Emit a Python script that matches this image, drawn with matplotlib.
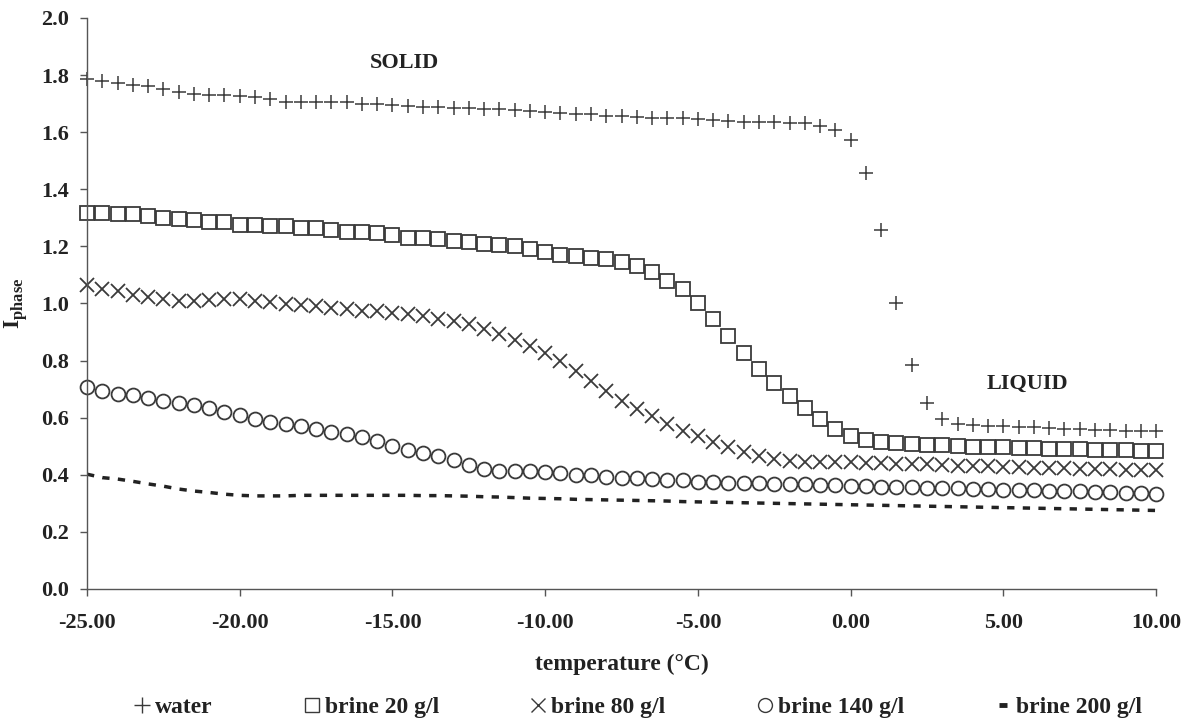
import matplotlib
matplotlib.use("Agg")
import matplotlib.pyplot as plt
from matplotlib.lines import Line2D
import numpy as np

plt.rcParams['font.family'] = ['Liberation Serif', 'DejaVu Serif']
plt.rcParams['font.weight'] = 'bold'
plt.rcParams['mathtext.fontset'] = 'custom'
plt.rcParams['mathtext.rm'] = 'Liberation Serif:bold'
plt.rcParams['mathtext.bf'] = 'Liberation Serif:bold'

# temperature grid (°C), one reading every 0.5 degree
temperature = np.arange(-25.0, 10.01, 0.5)

water = [1.785, 1.780, 1.773, 1.766, 1.760, 1.750, 1.742, 1.733, 1.731, 1.730,
         1.728, 1.722, 1.715, 1.707, 1.705, 1.705, 1.706, 1.704, 1.700, 1.697,
         1.694, 1.690, 1.688, 1.688, 1.686, 1.684, 1.682, 1.680, 1.677, 1.674,
         1.671, 1.668, 1.664, 1.662, 1.658, 1.655, 1.654, 1.651, 1.650, 1.649,
         1.645, 1.642, 1.638, 1.635, 1.634, 1.634, 1.633, 1.631, 1.620, 1.608,
         1.573, 1.458, 1.259, 1.003, 0.783, 0.653, 0.594, 0.578, 0.574, 0.572,
         0.570, 0.568, 0.566, 0.564, 0.562, 0.560, 0.558, 0.557, 0.555, 0.553,
         0.552]

brine20 = [1.318, 1.316, 1.315, 1.313, 1.308, 1.300, 1.297, 1.292, 1.287, 1.285,
           1.276, 1.274, 1.273, 1.270, 1.266, 1.264, 1.256, 1.252, 1.252, 1.247,
           1.240, 1.231, 1.229, 1.225, 1.220, 1.215, 1.210, 1.205, 1.200, 1.190,
           1.180, 1.171, 1.165, 1.160, 1.155, 1.145, 1.130, 1.110, 1.080, 1.050,
           1.000, 0.945, 0.885, 0.825, 0.770, 0.720, 0.675, 0.635, 0.594, 0.560,
           0.535, 0.521, 0.514, 0.510, 0.508, 0.505, 0.503, 0.500, 0.498, 0.497,
           0.496, 0.494, 0.493, 0.491, 0.490, 0.489, 0.488, 0.487, 0.486, 0.485,
           0.483]

brine80 = [1.066, 1.052, 1.042, 1.031, 1.024, 1.017, 1.007, 1.007, 1.012, 1.015,
           1.015, 1.010, 1.004, 0.997, 0.993, 0.990, 0.985, 0.980, 0.975, 0.972,
           0.968, 0.962, 0.956, 0.947, 0.937, 0.927, 0.909, 0.892, 0.871, 0.850,
           0.825, 0.797, 0.762, 0.727, 0.692, 0.657, 0.629, 0.605, 0.577, 0.552,
           0.535, 0.514, 0.497, 0.479, 0.465, 0.455, 0.448, 0.446, 0.445, 0.444,
           0.443, 0.442, 0.441, 0.439, 0.437, 0.436, 0.434, 0.432, 0.431, 0.429,
           0.428, 0.426, 0.425, 0.423, 0.422, 0.421, 0.420, 0.419, 0.418, 0.417,
           0.416]

brine140 = [0.706, 0.692, 0.684, 0.678, 0.670, 0.660, 0.653, 0.644, 0.633, 0.619,
            0.608, 0.597, 0.585, 0.577, 0.570, 0.560, 0.550, 0.542, 0.531, 0.520,
            0.502, 0.488, 0.475, 0.464, 0.450, 0.434, 0.420, 0.414, 0.414, 0.412,
            0.410, 0.405, 0.400, 0.398, 0.392, 0.389, 0.387, 0.385, 0.381, 0.381,
            0.375, 0.374, 0.372, 0.371, 0.370, 0.368, 0.367, 0.366, 0.364, 0.363,
            0.361, 0.360, 0.358, 0.357, 0.356, 0.354, 0.353, 0.352, 0.351, 0.349,
            0.348, 0.347, 0.346, 0.344, 0.343, 0.342, 0.340, 0.338, 0.337, 0.335,
            0.333]

brine200 = [0.402, 0.390, 0.385, 0.377, 0.368, 0.360, 0.350, 0.343, 0.338, 0.332,
            0.328, 0.326, 0.326, 0.326, 0.328, 0.328, 0.328, 0.328, 0.328, 0.328,
            0.328, 0.328, 0.327, 0.327, 0.326, 0.325, 0.323, 0.322, 0.320, 0.318,
            0.317, 0.316, 0.314, 0.313, 0.312, 0.311, 0.310, 0.309, 0.308, 0.306,
            0.305, 0.304, 0.303, 0.302, 0.301, 0.300, 0.299, 0.298, 0.297, 0.296,
            0.295, 0.294, 0.293, 0.292, 0.291, 0.290, 0.289, 0.288, 0.287, 0.286,
            0.285, 0.284, 0.283, 0.282, 0.281, 0.280, 0.279, 0.278, 0.277, 0.276,
            0.275]

labels = ['water', 'brine 20 g/l', 'brine 80 g/l', 'brine 140 g/l', 'brine 200 g/l']

xticks = [-25, -20, -15, -10, -5, 0, 5, 10]
yticks = [0.0, 0.2, 0.4, 0.6, 0.8, 1.0, 1.2, 1.4, 1.6, 1.8, 2.0]

mc = '#3a3a3a'
txt = '#222222'

fig = plt.figure(figsize=(11.89, 7.24), dpi=100)
ax = fig.add_axes([0.0732, 0.1865, 0.8991, 0.7887])

ax.plot(temperature, water, ls='none', marker='+', ms=10.5, mew=1.1, color=mc, clip_on=False)
ax.plot(temperature, brine20, ls='none', marker='s', ms=9.8, mew=1.3, mfc='none', mec=mc, clip_on=False)
ax.plot(temperature, brine80, ls='none', marker='x', ms=9.5, mew=1.3, color=mc, clip_on=False)
ax.plot(temperature, brine140, ls='none', marker='o', ms=10, mew=1.3, mfc='none', mec=mc, clip_on=False)
ax.plot(temperature, brine200, ls=(0, (2.1, 2.4)), lw=2.5, color='#222222')

ax.text(-14.6, 1.843, 'SOLID', ha='center', va='center', fontsize=16, color=txt)
ax.text(5.8, 0.72, 'LIQUID', ha='center', va='center', fontsize=16, color=txt)

ax.set_xlim(-25, 10)
ax.set_ylim(0, 2.0)
ax.set_xticks(xticks)
ax.set_xticklabels([f'{t:.2f}' for t in xticks])
ax.set_yticks(yticks)
ax.set_yticklabels([f'{t:.1f}' for t in yticks])
ax.tick_params(direction='out', length=5, width=1, colors='#555555', labelcolor=txt, labelsize=16)
ax.tick_params(axis='x', pad=12)
ax.tick_params(axis='y', pad=8)

for s in ['top', 'right']:
    ax.spines[s].set_visible(False)
for s in ['left', 'bottom']:
    ax.spines[s].set_color('#555555')
    ax.spines[s].set_linewidth(1.0)

ax.set_xlabel('temperature (°C)', fontsize=17, fontweight='bold', color=txt, labelpad=15)
ax.set_ylabel(r'$\mathrm{I}_{\mathrm{phase}}$', fontsize=17, color=txt, labelpad=8)

handles = [
    Line2D([], [], ls='none', marker='+', ms=12, mew=1.0, color=mc),
    Line2D([], [], ls='none', marker='s', ms=10, mew=1.0, mfc='none', mec=mc),
    Line2D([], [], ls='none', marker='x', ms=10, mew=1.0, color=mc),
    Line2D([], [], ls='none', marker='o', ms=10, mew=1.0, mfc='none', mec=mc),
    Line2D([], [], ls='none', marker='_', ms=6, mew=3.5, color='#222222'),
]
fig.legend(handles, labels, loc='center', bbox_to_anchor=(0.537, 0.023), ncol=5,
           frameon=False, fontsize=17, handlelength=0.6, handletextpad=0.25,
           columnspacing=3.9, labelcolor=txt)

fig.savefig('out.png', dpi=100)
plt.close(fig)
